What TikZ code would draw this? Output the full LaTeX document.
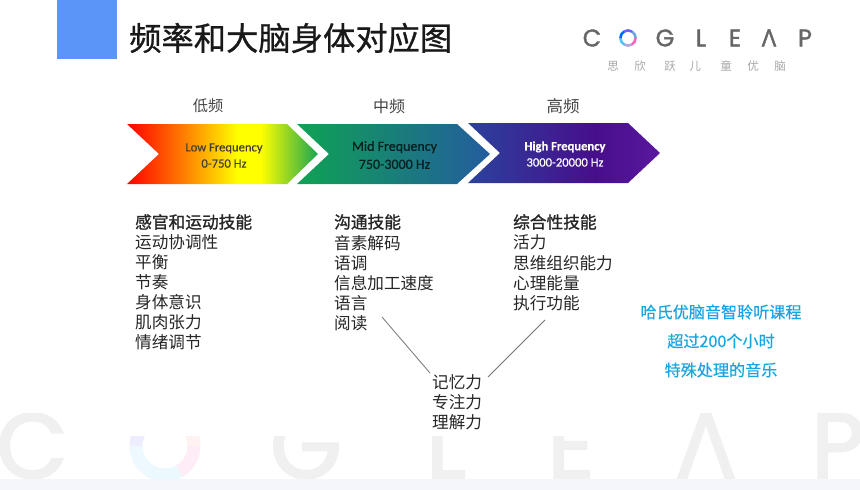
\documentclass[tikz,border=0pt]{standalone}
\usepackage{fontspec}
\setmainfont{Noto Sans CJK SC}
\newfontfamily\titlefont[FakeBold=0.8]{Noto Sans CJK SC}
\newfontfamily\headfont[FakeBold=1.2]{Noto Sans CJK SC}
\newfontfamily\cyanfont[FakeBold=0.4]{Noto Sans CJK SC}
\newfontfamily\arrowfont[FakeBold=0.5]{Carlito}
\newfontfamily\logofont[FakeBold=1.5]{Poppins}
\newfontfamily\lambdafont[FakeBold=1.5]{Open Sans}
\newfontfamily\wmfont[FakeBold=2.5]{Poppins}
\newfontfamily\wmlambda[FakeBold=2.5]{Open Sans}
\definecolor{lowgreen}{HTML}{18A550}
\definecolor{midgreen}{HTML}{0FA254}
\definecolor{midblue}{HTML}{235C9E}
\definecolor{higha}{HTML}{2B429C}
\definecolor{highb}{HTML}{470E8C}
\definecolor{highc}{HTML}{5A189E}
\definecolor{bodytext}{HTML}{262626}
\definecolor{labeltext}{HTML}{454545}
\definecolor{bluebox}{HTML}{5B96F7}
\definecolor{cyantext}{HTML}{17A5E3}
\definecolor{logogray}{HTML}{666666}
\definecolor{marksub}{HTML}{A8A8A8}
\definecolor{wmgray}{HTML}{F0F0F0}
\definecolor{band}{HTML}{F5F6FB}
\pgfdeclarehorizontalshading{lowshade}{100bp}{color(0bp)=(red); color(25bp)=(red); color(40bp)=(orange); color(54bp)=(yellow); color(60bp)=(yellow); color(75bp)=(lowgreen); color(100bp)=(lowgreen)}
\pgfdeclarehorizontalshading{midshade}{100bp}{color(0bp)=(midgreen); color(25bp)=(midgreen); color(75bp)=(midblue); color(100bp)=(midblue)}
\pgfdeclarehorizontalshading{highshade}{100bp}{color(0bp)=(higha); color(25bp)=(higha); color(58bp)=(highb); color(75bp)=(highc); color(100bp)=(highc)}
\tikzset{
  body/.style={anchor=west,inner sep=0pt,font=\fontsize{16.6}{18}\selectfont,text=bodytext},
  headline/.style={body,font=\headfont\fontsize{16.7}{18}\selectfont},
  bandlabel/.style={inner sep=0pt,text=labeltext},
  arrowtext/.style={inner sep=0pt,align=center,font=\arrowfont\fontsize{12.6}{16.2}\selectfont},
  cyanline/.style={inner sep=0pt,font=\cyanfont\fontsize{16.1}{18}\selectfont,text=cyantext},
  logoletter/.style={inner sep=0pt,font=\logofont\fontsize{24}{24}\selectfont,text=logogray},
  subletter/.style={inner sep=0pt,font=\fontsize{11.5}{12}\selectfont,text=marksub},
  wmletter/.style={inner sep=0pt,anchor=base,font=\wmfont\fontsize{92}{92}\selectfont,text=wmgray},
  connector/.style={draw=black!55,line width=0.8pt},
}
\begin{document}
\begin{tikzpicture}[x=1pt,y=-1pt]
\useasboundingbox (0,0) rectangle (860,490);
\fill[white] (0,0) rectangle (860,490);
% watermark
\begin{scope}
\clip (0,413) rectangle (860,479);
\node[wmletter] (wc) at (32,478) {C};
\node[wmletter] (wg) at (306,478) {G};
\node[wmletter] (wl) at (446,478) {L};
\node[wmletter] (we) at (571,478) {E};
\node[wmletter,font=\wmlambda\fontsize{92}{92}\selectfont] (wa) at (706,478) {Λ};
\node[wmletter] (wp) at (838,478) {P};
\foreach \a/\c in {-60/red!5,0/magenta!7,60/cyan!8,120/cyan!7,180/blue!7,240/blue!5}
  \draw[\c,line width=13pt] (165,446)++(\a:29) arc[start angle=\a,end angle=\a+61,radius=29];
\fill[white] (100,413) rectangle (640,436);
\end{scope}
\fill[band] (0,479) rectangle (860,490);
% header
\fill[bluebox] (57,0) rectangle (117,59);
\node[inner sep=0pt,anchor=west,font=\titlefont\fontsize{32.3}{36}\selectfont,text=black!90] (title) at (129,38) {频率和大脑身体对应图};
% logo
\node[logoletter] (lc) at (592,38) {C};
\foreach \a/\c in {-60/cyan!60!blue!60,0/magenta!60,60/magenta!50!cyan!60,120/cyan!70,180/blue!60!cyan,240/blue!60}
  \draw[\c,line width=2.6pt] (628,38)++(\a:7.6) arc[start angle=\a,end angle=\a+61,radius=7.6];
\node[logoletter] (lg) at (665,38) {G};
\node[logoletter] (ll) at (701,38) {L};
\node[logoletter] (le) at (735,38) {E};
\node[logoletter,font=\lambdafont\fontsize{24}{24}\selectfont] (la) at (769,38) {Λ};
\node[logoletter] (lp) at (805,38) {P};
\node[subletter] (s1) at (613,66) {思};
\node[subletter] (s2) at (640,66) {欣};
\node[subletter] (s3) at (670,66) {跃};
\node[subletter] (s4) at (695,66) {儿};
\node[subletter] (s5) at (726,66) {童};
\node[subletter] (s6) at (753,66) {优};
\node[subletter] (s7) at (780,66) {脑};
% band labels
\node[bandlabel,font=\fontsize{15.2}{18}\selectfont] (lowlab) at (208,106) {低频};
\node[bandlabel,font=\fontsize{16}{18}\selectfont] (midlab) at (389,106) {中频};
\node[bandlabel,font=\fontsize{16.5}{18}\selectfont] (highlab) at (563,106) {高频};
% arrows
\shade[shading=lowshade] (127,124) -- (287,124) -- (318,154) -- (287,184) -- (127,184) -- (159,154) -- cycle;
\shade[shading=midshade] (297,124) -- (457,124) -- (490,154) -- (457,184) -- (297,184) -- (329,154) -- cycle;
\shade[shading=highshade] (468,123) -- (628,123) -- (660,153) -- (628,183) -- (468,183) -- (500,153) -- cycle;
\node[arrowtext,text=black!70!olive] (lowtxt) at (224,155.5) {Low Frequency\\0-750 Hz};
\node[arrowtext,text=black!75!teal,font=\arrowfont\fontsize{14}{18}\selectfont] (midtxt) at (394.5,155) {Mid Frequency\\750-3000 Hz};
\node[arrowtext,text=white] (hightxt) at (565,154) {\bfseries High Frequency\\3000-20000 Hz};
% column 1
\node[headline] (a0) at (135,222) {感官和运动技能};
\node[body] (a1) at (135,242) {运动协调性};
\node[body] (a2) at (135,262) {平衡};
\node[body] (a3) at (135,282) {节奏};
\node[body] (a4) at (135,302) {身体意识};
\node[body] (a5) at (135,322) {肌肉张力};
\node[body] (a6) at (135,342) {情绪调节};
% column 2
\node[headline] (b0) at (334,222) {沟通技能};
\node[body] (b1) at (334,243) {音素解码};
\node[body] (b2) at (334,263) {语调};
\node[body] (b3) at (334,283) {信息加工速度};
\node[body] (b4) at (334,303) {语言};
\node[body] (b5) at (334,323) {阅读};
% column 3
\node[headline] (c0) at (513,222) {综合性技能};
\node[body] (c1) at (513,242) {活力};
\node[body] (c2) at (513,263) {思维组织能力};
\node[body] (c3) at (513,283) {心理能量};
\node[body] (c4) at (513,303) {执行功能};
% shared
\node[body] (d0) at (432,382) {记忆力};
\node[body] (d1) at (432,402) {专注力};
\node[body] (d2) at (432,422) {理解力};
\coordinate (lstart) at (382,317);
\coordinate (lend) at (430,373);
\coordinate (rstart) at (545,320);
\coordinate (rend) at (488,377);
\draw[connector] (lstart) -- (lend);
\draw[connector] (rstart) -- (rend);
% cyan
\node[cyanline] (e0) at (721,312) {哈氏优脑音智聆听课程};
\node[cyanline] (e1) at (721,341) {超过200个小时};
\node[cyanline] (e2) at (721,370) {特殊处理的音乐};
\end{tikzpicture}
\end{document}
